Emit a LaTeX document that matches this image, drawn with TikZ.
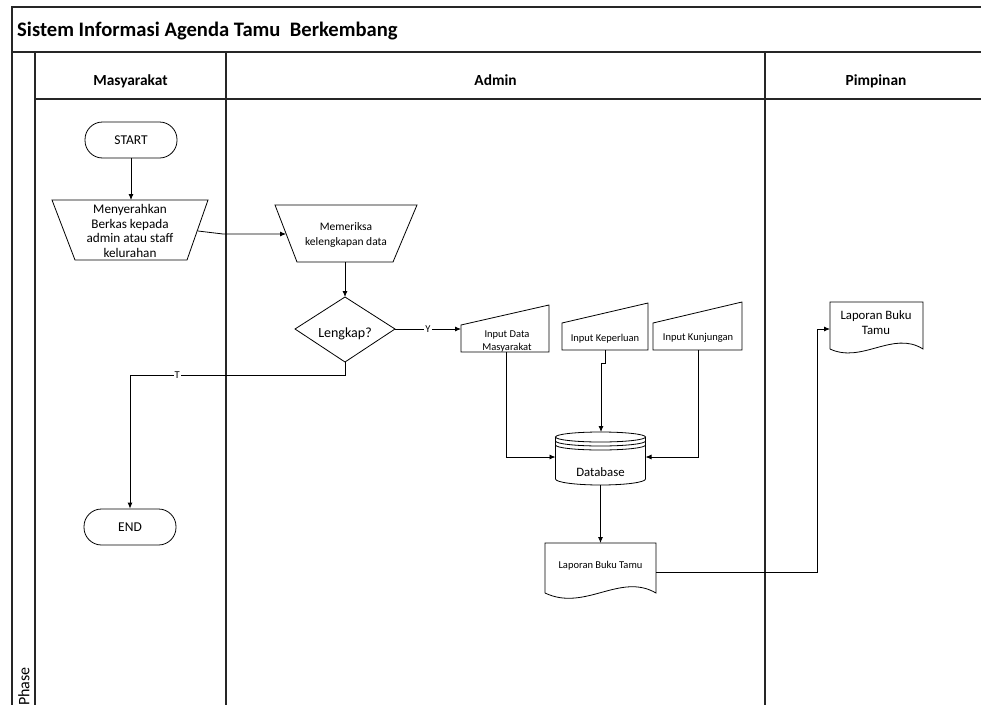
\documentclass[tikz,border=0pt]{standalone}
\usepackage{fontspec}
\setmainfont{Carlito}
\usetikzlibrary{arrows.meta}
\begin{document}
\begin{tikzpicture}[x=1pt,y=-1pt,
  frame/.style={line width=1.1pt, draw=black!85},
  shp/.style={draw=black, line width=0.8pt},
  conn/.style={draw=black, line width=0.8pt},
  arr/.style={conn, -{Latex[length=6pt,width=5pt]}},
  term/.style={draw=black, line width=0.8pt, rounded corners=17.5pt, minimum width=92pt, minimum height=36pt, inner sep=0pt, font=\fontsize{13.5}{15}\selectfont},
  txt/.style={font=\fontsize{13.2}{14.5}\selectfont, align=center, inner sep=0pt},
  small/.style={font=\fontsize{10.5}{13}\selectfont, align=center, inner sep=0pt},
  lbl/.style={font=\fontsize{10.5}{11}\selectfont, fill=white, inner sep=1pt},
  head/.style={font=\bfseries\fontsize{15.4}{18}\selectfont, inner sep=0pt, anchor=base},
  ttl/.style={font=\bfseries\fontsize{20.6}{24}\selectfont, inner sep=0pt, anchor=west}]
\useasboundingbox (0,0) rectangle (981,704);
\clip (0,0) rectangle (981,704);
% frame
\draw[frame] (12,710) -- (12,7) -- (990,7);
\draw[frame] (12,52) -- (990,52);
\draw[frame] (35,52) -- (35,710);
\draw[frame] (35,99) -- (990,99);
\draw[frame] (226,52) -- (226,710);
\draw[frame] (765,52) -- (765,710);
\node[ttl] (title) at (17,31) {Sistem Informasi Agenda Tamu \ Berkembang};
\node[head] (hm) at (130.5,85) {Masyarakat};
\node[head] (ha) at (495.5,85) {Admin};
\node[head] (hp) at (876,85) {Pimpinan};
\node[font=\fontsize{16}{18}\selectfont, rotate=90, anchor=east, inner sep=0pt] (phase) at (24,667) {Phase};

% START / END
\node[term] (start) at (131,140) {START};
\node[term] (end) at (130,527) {END};

% Menyerahkan
\draw[shp] (52,200) -- (208,200) -- (187,260) -- (75,260) -- cycle;
\node[txt] (men) at (130,231) {Menyerahkan\\Berkas kepada\\admin atau staff\\kelurahan};
\coordinate (menT) at (131,200);
\coordinate (menR) at (198,231);
\coordinate (bend1) at (223,234);

% Memeriksa
\draw[shp] (275,205) -- (417,205) -- (393,262) -- (297,262) -- cycle;
\node[txt, font=\fontsize{11.5}{14.5}\selectfont] (mem) at (346,235) {Memeriksa\\kelengkapan data};
\coordinate (memL) at (286,234);
\coordinate (memB) at (345,262);

% Decision
\draw[shp] (345,297) -- (395,329) -- (345,362) -- (295,329) -- cycle;
\node[font=\fontsize{14}{15}\selectfont, inner sep=0pt, anchor=base] (dec) at (345,337.5) {Lengkap?};
\coordinate (decT) at (345,297);
\coordinate (decR) at (395,329);
\coordinate (decB) at (345,362);

% Inputs
\draw[shp] (461,325) -- (549,305) -- (549,352) -- (461,352) -- cycle;
\node[small] (in1) at (507,341) {Input Data\\Masyarakat};
\coordinate (in1L) at (461,329);
\coordinate (in1B) at (506,352);
\draw[shp] (562,323) -- (648,303) -- (648,350) -- (562,350) -- cycle;
\node[small] (in2) at (605,339) {Input Keperluan};
\coordinate (in2B) at (605,350);
\draw[shp] (653,323) -- (742,302) -- (742,350) -- (653,350) -- cycle;
\node[small] (in3) at (698,338) {Input Kunjungan};
\coordinate (in3B) at (698,350);

% Database
\draw[shp, fill=white] (600.5,437) ellipse (45 and 5);
\draw[shp] (555.5,441) arc (180:0:45 and 5);
\draw[shp] (555.5,445) arc (180:0:45 and 5);
\draw[shp] (555.5,437) -- (555.5,479) arc (180:0:45 and 6) -- (645.5,437);
\node[font=\fontsize{12.8}{14}\selectfont, inner sep=0pt] (db) at (600.5,472) {Database};
\coordinate (dbT) at (601,432);
\coordinate (dbL) at (555.5,457);
\coordinate (dbR) at (645.5,457);
\coordinate (dbB) at (600.5,485);

% Document (Admin)
\draw[shp] (545,593) -- (545,543) -- (656,543) -- (656,593)
  .. controls (620,572) and (585,612) .. (545,593);
\node[small] (lap1) at (600.5,566) {Laporan Buku Tamu};
\coordinate (lap1T) at (600.5,543);
\coordinate (lap1R) at (656,572);

% Document (Pimpinan)
\draw[shp] (830,349) -- (830,302) -- (923,302) -- (923,349)
  .. controls (893,330) and (862,364) .. (830,349);
\node[txt, font=\fontsize{12.8}{15}\selectfont] (lap2) at (876,323) {Laporan Buku\\Tamu};
\coordinate (lap2L) at (830,329);

% connectors
\draw[arr] (start.south) -- (menT);
\draw[arr] (menR) -- (bend1) -- (memL);
\draw[arr] (memB) -- (decT);
\draw[arr] (decR) -- node[lbl] (ylab) {Y} (in1L);
\draw[arr] (decB) -- (345,375) -- node[lbl, pos=0.78] (tlab) {T} (130,375) -- (end.north);
\draw[arr] (in1B) |- (dbL);
\draw[arr] (in2B) -- (605,363) -- (601,363) -- (dbT);
\draw[arr] (in3B) |- (dbR);
\draw[arr] (dbB) -- (lap1T);
\draw[arr] (lap1R) -- (817,572) |- (lap2L);
\end{tikzpicture}
\end{document}
